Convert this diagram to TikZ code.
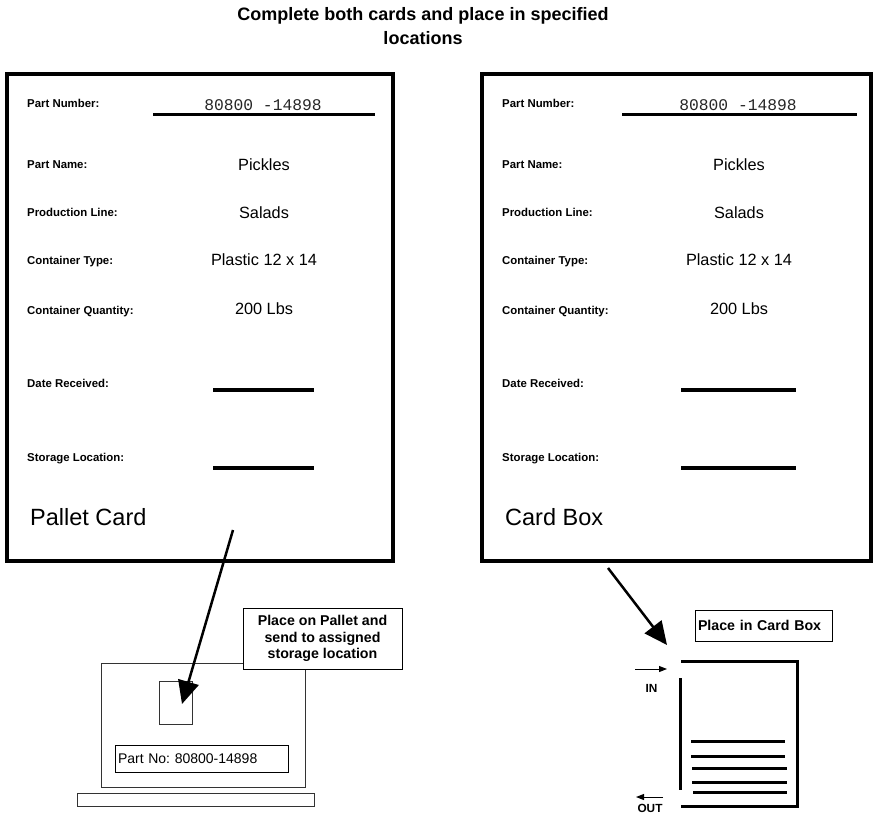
\documentclass[tikz,border=0pt]{standalone}
\usepackage{fontspec}
\setmainfont{Liberation Sans}
\newfontfamily\codefont{Liberation Mono}
\usetikzlibrary{arrows.meta}
\frenchspacing
\begin{document}
\begin{tikzpicture}[x=1pt,y=-1pt,
  card/.style={draw, line width=4pt, inner sep=0pt},
  fieldlabel/.style={anchor=base west, inner sep=0pt, font=\bfseries\fontsize{11.4}{13}\selectfont},
  fieldvalue/.style={anchor=base, inner sep=0pt, font=\fontsize{16.3}{19}\selectfont},
  codevalue/.style={anchor=base, inner sep=0pt, text=black!85, font=\codefont\fontsize{16.3}{19}\selectfont},
  cardname/.style={anchor=base west, inner sep=0pt, font=\fontsize{23.5}{28}\selectfont},
  blankline/.style={line width=4pt},
  numline/.style={line width=3.3pt},
  thinbox/.style={draw=black!80, line width=1pt, inner sep=0pt},
  callout/.style={draw, line width=0.9pt, fill=white, inner sep=0pt,
    font=\bfseries\fontsize{14.2}{16.7}\selectfont},
  bigarrow/.style={line width=2.5pt, -{Triangle[length=23pt,width=21pt]}},
  flowarrow/.style={line width=1pt, -{Triangle[length=8pt,width=6pt]}},
  flowtext/.style={inner sep=0pt, font=\bfseries\fontsize{11.8}{14}\selectfont},
  boxwall/.style={line width=3.5pt},
  stackline/.style={line width=3pt}
]
\useasboundingbox (0,0) rectangle (877,835);

% heading
\node[anchor=base, inner sep=0pt, font=\bfseries\fontsize{18}{22}\selectfont] (title1) at (423,20) {Complete both cards and place in specified};
\node[anchor=base, inner sep=0pt, font=\bfseries\fontsize{18}{22}\selectfont] (title2) at (423,44.5) {locations};

% the two cards
\node[card, minimum width=386pt, minimum height=487pt] (palletcard) at (200,317.5) {};
\node[card, minimum width=389pt, minimum height=487pt] (boxcard) at (676.5,317.5) {};

% identical fields on both cards
\foreach \lx/\vx/\id in {27/264/L, 502/739/R}{
  \node[fieldlabel] (pn\id) at (\lx,107) {Part Number:};
  \node[codevalue] (pnv\id) at (\vx-1,110) {80800 -14898};
  \node[fieldlabel] (nm\id) at (\lx,168) {Part Name:};
  \node[fieldvalue] (nmv\id) at (\vx,170) {Pickles};
  \node[fieldlabel] (pl\id) at (\lx,216) {Production Line:};
  \node[fieldvalue] (plv\id) at (\vx,218) {Salads};
  \node[fieldlabel] (ct\id) at (\lx,264) {Container Type:};
  \node[fieldvalue] (ctv\id) at (\vx,265) {Plastic 12 x 14};
  \node[fieldlabel] (cq\id) at (\lx,314) {Container Quantity:};
  \node[fieldvalue] (cqv\id) at (\vx,314) {200 Lbs};
  \node[fieldlabel] (dr\id) at (\lx,387) {Date Received:};
  \node[fieldlabel] (sl\id) at (\lx,461) {Storage Location:};
}

% write-in lines
\draw[numline] (153,114.5) -- (375,114.5);
\draw[numline] (622,114.5) -- (857,114.5);
\draw[blankline] (213,390) -- (314,390);
\draw[blankline] (213,468) -- (314,468);
\draw[blankline] (681,390) -- (796,390);
\draw[blankline] (681,468) -- (796,468);

\node[cardname] (palletname) at (30,525) {Pallet Card};
\node[cardname] (boxname) at (505,525) {Card Box};

% pallet with load
\node[thinbox, minimum width=237pt, minimum height=13pt] (palletbase) at (195.5,799.5) {};
\node[thinbox, minimum width=204pt, minimum height=124pt] (pallet) at (203,725) {};
\node[callout, minimum width=159pt, minimum height=61pt, align=center] (palletnote) at (322.5,638.5)
  {Place on Pallet and\\send to assigned\\storage location};
\node[thinbox, minimum width=33pt, minimum height=43pt] (slot) at (175.5,702.5) {};
\node[thinbox, draw=black, minimum height=27pt, text width=167pt, inner xsep=3pt, align=left,
  font=\fontsize{14}{16}\selectfont] (partno) at (201.5,758.5) {Part No: 80800-14898};

\coordinate (pcFrom) at (233,530);
\coordinate (pcTo) at (182,704);
\draw[bigarrow] (pcFrom) -- (pcTo);

% card box
\node[callout, minimum width=137pt, minimum height=31pt, text width=131pt, inner xsep=3pt, align=left]
  (boxnote) at (763.5,625.5) {Place in Card Box};
\draw[boxwall] (680.7,678) -- (680.7,790);
\draw[boxwall] (681,661.7) -- (797.3,661.7) -- (797.3,806.7) -- (681,806.7);
\foreach \yy/\xa/\xb in {741/691/785, 756/691/785, 768.3/692.3/786.7, 782.7/692.3/786.7, 792.7/693.3/787.3}
  \draw[stackline] (\xa,\yy) -- (\xb,\yy);

\coordinate (inFrom) at (635,669);
\coordinate (inTo) at (667,669);
\draw[flowarrow] (inFrom) -- (inTo);
\node[flowtext] (inlabel) at (651.5,688.5) {IN};
\coordinate (outFrom) at (663,797);
\coordinate (outTo) at (636,797);
\draw[flowarrow] (outFrom) -- (outTo);
\node[flowtext] (outlabel) at (650,808) {OUT};

\coordinate (cbFrom) at (608,568);
\coordinate (cbTo) at (667,645);
\draw[bigarrow] (cbFrom) -- (cbTo);
\end{tikzpicture}
\end{document}
